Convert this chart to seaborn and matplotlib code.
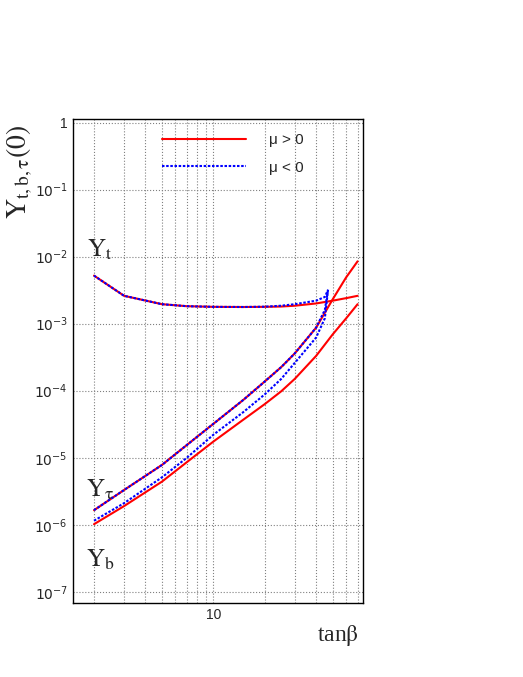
import numpy as np
import matplotlib
matplotlib.use("Agg")
import matplotlib.pyplot as plt
import seaborn as sns
from matplotlib.ticker import FixedLocator, NullFormatter, LogLocator

sns.set_style("white")
plt.rcParams['font.family'] = ['Liberation Sans', 'DejaVu Sans']

tanb_pos = [2, 3, 5, 7, 10, 15, 20, 25, 30, 40, 50, 60, 70]
yt_pos = [5.2e-3, 2.6e-3, 1.95e-3, 1.82e-3, 1.78e-3, 1.77e-3, 1.78e-3, 1.8e-3, 1.85e-3, 2.0e-3, 2.2e-3, 2.4e-3, 2.6e-3]
ytau_pos = [1.65e-6, 3.3e-6, 7.8e-6, 1.55e-5, 3.2e-5, 7.3e-5, 1.37e-4, 2.25e-4, 3.6e-4, 8.7e-4, 2.3e-3, 4.9e-3, 8.5e-3]
yb_pos = [1.02e-6, 1.9e-6, 4.4e-6, 8.6e-6, 1.74e-5, 3.7e-5, 6.3e-5, 9.8e-5, 1.5e-4, 3.3e-4, 6.9e-4, 1.2e-3, 1.95e-3]

tanb_neg = [2, 3, 5, 7, 10, 15, 20, 25, 30, 40, 45, 47]
yt_neg = [5.2e-3, 2.6e-3, 1.95e-3, 1.82e-3, 1.78e-3, 1.77e-3, 1.79e-3, 1.85e-3, 1.95e-3, 2.2e-3, 2.5e-3, 3.2e-3]
ytau_neg = [1.65e-6, 3.3e-6, 7.8e-6, 1.55e-5, 3.2e-5, 7.3e-5, 1.37e-4, 2.25e-4, 3.6e-4, 8.7e-4, 1.6e-3, 3.2e-3]
yb_neg = [1.15e-6, 2.1e-6, 5.1e-6, 1.0e-5, 2.2e-5, 4.8e-5, 8.8e-5, 1.5e-4, 2.6e-4, 6.2e-4, 1.2e-3, 3.2e-3]

fig = plt.figure(figsize=(5.23, 6.77), dpi=100)
ax = fig.add_axes([0.139, 0.109, 0.5545, 0.715])

for y in (yt_pos, ytau_pos, yb_pos):
    sns.lineplot(x=tanb_pos, y=y, ax=ax, color='red', lw=1.5, sort=False,
                 label='μ > 0' if y is yt_pos else None)
for y in (yt_neg, ytau_neg, yb_neg):
    sns.lineplot(x=tanb_neg, y=y, ax=ax, color='blue', lw=1.5, ls=(0, (1.2, 0.8)), sort=False,
                 label='μ < 0' if y is yt_neg else None)

ax.set_xscale('log'); ax.set_yscale('log')
ax.set_xlim(1.5, 75)
ax.set_ylim(10**-7.17, 10**0.05)

ax.xaxis.set_major_locator(FixedLocator([10]))
ax.xaxis.set_minor_locator(FixedLocator([2, 3, 4, 5, 6, 7, 8, 9, 20, 30, 40, 50, 60, 70]))
ax.xaxis.set_minor_formatter(NullFormatter())
ax.set_xticks([10]); ax.set_xticklabels(['10'])
yt = [10.0**k for k in range(-7, 1)]
ax.set_yticks(yt)
ax.set_yticklabels(['$10^{%d}$' % k if k < 0 else '1' for k in range(-7, 1)])
ax.yaxis.set_minor_locator(LogLocator(base=10, subs=np.arange(2, 10)))
ax.yaxis.set_minor_formatter(NullFormatter())
ax.tick_params(which='both', direction='in', labelsize=10)
ax.tick_params(which='major', length=8)
ax.tick_params(which='minor', length=4)
ax.grid(True, which='major', axis='y', ls=':', color='gray', lw=0.8)
ax.grid(True, which='both', axis='x', ls=':', color='gray', lw=0.8)
for s in ax.spines.values():
    s.set_color('black'); s.set_linewidth(1)

leg = ax.legend(loc='upper left', bbox_to_anchor=(0.26, 1.0), frameon=False,
                handlelength=5.5, fontsize=11, labelspacing=0.9, handletextpad=1.5)

serif = ['Liberation Serif', 'DejaVu Serif']
kw = dict(ha='center', va='center', family=serif, math_fontfamily='stix')
fig.text(20/523, 1-172/677, r'$\mathrm{Y_{t,b,\tau}(0)}$', rotation=90, fontsize=20, **kw)
fig.text(338/523, 1-635/677, r'tan$\mathrm{\beta}$', fontsize=17, **kw)
fig.text(100/523, 1-250/677, r'$\mathrm{Y_t}$', fontsize=18, **kw)
fig.text(100/523, 1-490/677, r'$\mathrm{Y_\tau}$', fontsize=18, **kw)
fig.text(100/523, 1-560/677, r'$\mathrm{Y_b}$', fontsize=18, **kw)

fig.savefig('out.png', dpi=100)
